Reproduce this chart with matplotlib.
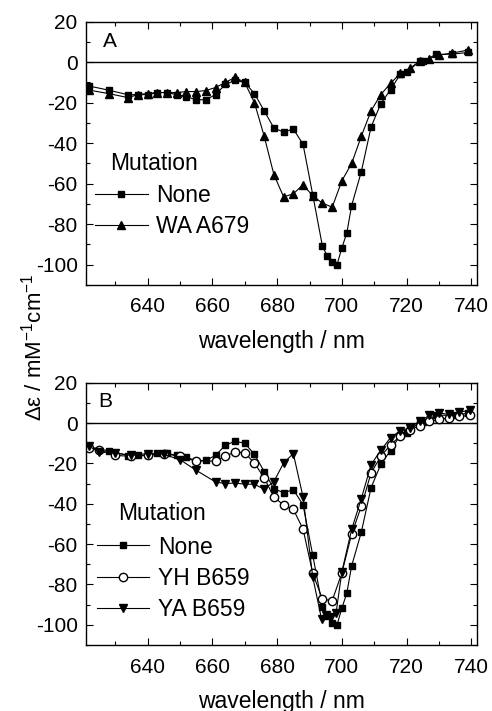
import matplotlib
matplotlib.use('Agg')
import matplotlib.pyplot as plt
from matplotlib.ticker import MultipleLocator

plt.rcParams['font.family'] = ['Liberation Sans', 'DejaVu Sans']
plt.rcParams['mathtext.default'] = 'regular'
plt.rcParams['axes.unicode_minus'] = False

# ---------------- data ----------------
x_none = [622, 628, 634, 637, 640, 643, 646, 649, 652, 655, 658, 661, 664, 667, 670,
          673, 676, 679, 682, 685, 688, 691, 694, 695.5, 697, 698.5, 700, 701.5, 703,
          706, 709, 712, 715, 718, 720, 724, 725, 729, 734, 739]
y_none = [-11.8, -13.8, -16.1, -16, -16, -15, -15, -16, -17, -18.6, -18.5, -16, -11, -9, -10,
          -15.5, -24, -32.5, -34.5, -33, -40.5, -65.5, -91, -95.6, -98.9, -100, -91.6, -84.4, -70.8,
          -54, -32, -20.5, -13.6, -6, -5, 0.5, 0.5, 3.8, 4, 4.8]

x_wa = [622, 628, 634, 637, 640, 643, 646, 649, 652, 655, 658, 661, 664, 667, 670,
        673, 676, 679, 682, 685, 688, 691, 694, 697, 700, 703, 706, 709, 712, 715,
        718, 721, 724, 727, 730, 734, 739]
y_wa = [-13.8, -15.5, -17.5, -16, -15.5, -15, -15, -15, -14.5, -14.5, -14, -12.5, -10, -7.5, -10,
        -20, -36.5, -55.5, -66.5, -65, -60.5, -66, -69.6, -71.6, -58.5, -50, -36.5, -24, -16, -10.5,
        -5.5, -3, 0.5, 1.8, 3.5, 4.5, 6]

x_yh = [622, 625, 630, 635, 640, 645, 650, 655, 661, 664, 667, 670, 673, 676, 679,
        682, 685, 688, 691, 694, 697, 700, 703, 706, 709, 712, 715, 718, 721, 724,
        727, 730, 733, 736, 739.5]
y_yh = [-12.2, -13.2, -16, -16.5, -16, -15.1, -16.5, -18.8, -18.8, -16.5, -14.2, -14.8, -19.8, -27.2, -36.6,
        -40.7, -42.8, -52.5, -74.5, -87.3, -88, -74.2, -55, -41.2, -24.7, -16.5, -10.8, -6.4, -3.6, -1.2,
        0.8, 1.8, 2.6, 3.3, 3.8]

x_ya = [622, 625, 630, 635, 640, 645, 650, 655, 661, 664, 667, 670, 673, 676, 679,
        682, 685, 688, 691, 693.7, 695.2, 696.7, 698.2, 700, 703, 706, 709, 712, 715, 718,
        721, 724, 727, 730, 733, 736, 739.5]
y_ya = [-11.5, -14.3, -14.8, -16, -15.1, -15.5, -18.1, -23.4, -29.2, -30, -29.7, -30.3, -30.3, -32.8, -29,
        -19.8, -15.1, -36.6, -76.4, -97, -95, -96, -94, -73.6, -52.7, -37.4, -20.6, -13.5, -7.2, -3.9,
        -2.3, 1, 3.8, 5, 4.3, 5.4, 6.3]

x_ticks = [640, 660, 680, 700, 720, 740]
y_ticks = [-100, -80, -60, -40, -20, 0, 20]

# ---------------- figure ----------------
fig = plt.figure(figsize=(4.92, 7.11), dpi=100)
axA = fig.add_axes([0.1748, 0.5992, 0.7947, 0.3703])
axB = fig.add_axes([0.1748, 0.0928, 0.7947, 0.3689])

LW = 0.8
for ax in (axA, axB):
    ax.set_xlim(621, 741.7)
    ax.set_ylim(-110, 20)
    ax.axhline(0, color='black', lw=1.0, zorder=1)
    ax.set_xticks(x_ticks)
    ax.set_yticks(y_ticks)
    ax.xaxis.set_minor_locator(MultipleLocator(10))
    ax.yaxis.set_minor_locator(MultipleLocator(10))
    ax.tick_params(which='both', direction='in', top=True, right=True, width=0.8,
                   labelsize=15, colors='black')
    ax.tick_params(which='major', length=5)
    ax.tick_params(axis='x', which='major', pad=9)
    ax.tick_params(axis='y', which='major', pad=6)
    ax.tick_params(which='minor', length=3)
    for s in ax.spines.values():
        s.set_linewidth(1.0)
    ax.set_xlabel('wavelength / nm', fontsize=16.5, labelpad=10)

# Panel A
axA.plot(x_none, y_none, color='black', lw=LW, marker='s', ms=5, label='None')
axA.plot(x_wa, y_wa, color='black', lw=LW, marker='^', ms=6, label='WA A679')
axA.text(0.043, 0.923, 'A', transform=axA.transAxes, fontsize=15, va='center', ha='left')
axA.text(0.061, 0.463, 'Mutation', transform=axA.transAxes, fontsize=16.5, va='center', ha='left')
axA.legend(loc='center left', bbox_to_anchor=(0.023, 0.281), frameon=False, fontsize=16.5,
           handlelength=2.3, handletextpad=0.38, labelspacing=0.35, borderpad=0, borderaxespad=0,
           numpoints=1)

# Panel B
axB.plot(x_none, y_none, color='black', lw=LW, marker='s', ms=5, label='None')
axB.plot(x_yh, y_yh, color='black', lw=LW, marker='o', ms=6, mfc='white', mec='black', label='YH B659')
axB.plot(x_ya, y_ya, color='black', lw=LW, marker='v', ms=6, label='YA B659')
axB.text(0.031, 0.928, 'B', transform=axB.transAxes, fontsize=15, va='center', ha='left')
axB.text(0.083, 0.503, 'Mutation', transform=axB.transAxes, fontsize=16.5, va='center', ha='left')
axB.legend(loc='center left', bbox_to_anchor=(0.027, 0.2554), frameon=False, fontsize=16.5,
           handlelength=2.3, handletextpad=0.38, labelspacing=0.35, borderpad=0, borderaxespad=0,
           numpoints=1)

fig.text(0.068, 0.512, 'Δε / mM$^{-1}$cm$^{-1}$', rotation=90, va='center', ha='center', fontsize=16)

fig.savefig('out.png', dpi=100)
